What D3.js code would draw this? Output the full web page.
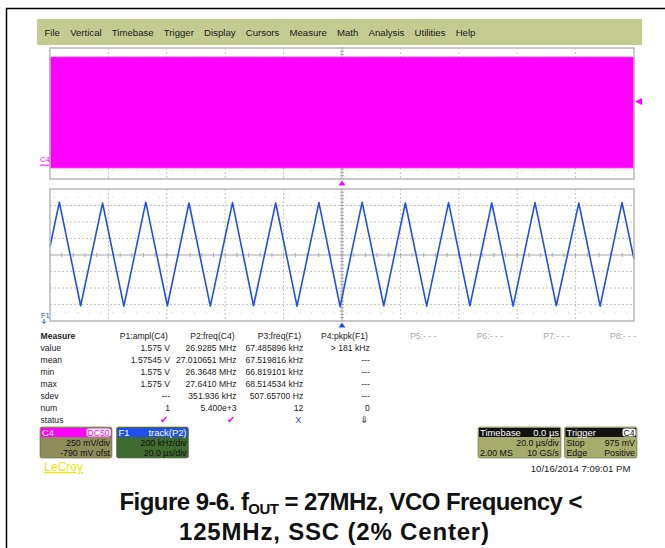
<!DOCTYPE html>
<html>
<head>
<meta charset="utf-8">
<script src="https://cdn.jsdelivr.net/npm/d3@7"></script>
<style>
  body { margin: 0; background: #fff; }
  svg { display: block; font-family: "Liberation Sans", Arial, sans-serif; }
</style>
</head>
<body>
<div id="chart"></div>
<script>
// ---- data ----
const menuItems = ['File', 'Vertical', 'Timebase', 'Trigger', 'Display', 'Cursors', 'Measure', 'Math', 'Analysis', 'Utilities', 'Help'];

// C4: 27 MHz clock, drawn as its envelope over the 200 us record (volts)
const c4Time = [-100, 100];
const c4High = [1.65, 1.65];
const c4Low = [-0.04, -0.04];
const c4TriggerLevel = 0.975;

// F1: track(P2), frequency vs time, triangle vertices (us, MHz)
const trackTime = [-100, -96.8, -89.5, -82.0, -74.7, -67.2, -59.8, -52.4, -45.1, -37.5, -30.3, -22.7, -15.4, -7.9,
  -0.65, 6.9, 14.3, 21.7, 29.0, 36.5, 43.8, 51.3, 58.6, 66.1, 73.4, 81.1, 88.4, 95.9, 100];
const trackFreq = [27.10, 27.64, 26.385, 27.63, 26.38, 27.64, 26.385, 27.63, 26.38, 27.635, 26.385, 27.63, 26.38, 27.635,
  26.375, 27.64, 26.385, 27.63, 26.38, 27.635, 26.385, 27.63, 26.38, 27.635, 26.385, 27.63, 26.38, 27.635, 26.95];

// measure table
const rowLabels = ['value', 'mean', 'min', 'max', 'sdev', 'num', 'status'];
const measHeaders = ['P1:ampl(C4)', 'P2:freq(C4)', 'P3:freq(F1)', 'P4:pkpk(F1)', 'P5:- - -', 'P6:- - -', 'P7:- - -', 'P8:- - -'];
const p1Values = ['1.575 V', '1.57545 V', '1.575 V', '1.575 V', '---', '1'];
const p2Values = ['26.9285 MHz', '27.010651 MHz', '26.3648 MHz', '27.6410 MHz', '351.936 kHz', '5.400e+3'];
const p3Values = ['67.485896 kHz', '67.519816 kHz', '66.819101 kHz', '68.514534 kHz', '507.65700 Hz', '12'];
const p4Values = ['> 181 kHz', '---', '---', '---', '---', '0'];
const statusIcons = ['\u2714', '\u2714', 'X', '\u21D3'];

// channel / timebase / trigger boxes
const c4Box = { title: 'C4', tag: 'DC50', lines: [['', '250 mV/div'], ['', '-790 mV ofst']] };
const f1Box = { title: 'F1', tag: 'track(P2)', lines: [['', '200 kHz/div'], ['', '20.0 \u00B5s/div']] };
const tbBox = { title: 'Timebase', tag: '0.0 \u00B5s', lines: [['', '20.0 \u00B5s/div'], ['2.00 MS', '10 GS/s']] };
const trigBox = { title: 'Trigger', tag: 'C4', lines: [['Stop', '975 mV'], ['Edge', 'Positive']] };
const dateText = '10/16/2014 7:09:01 PM';

// ---- drawing ----
const W = 665, H = 548;
const svg = d3.select('#chart').append('svg').attr('width', W).attr('height', H);

// page frame
svg.append('path').attr('d', 'M6.5,548V8.5H665').attr('fill', 'none').attr('stroke', '#000').attr('stroke-width', 1.5);

// menu bar
svg.append('rect').attr('x', 37).attr('y', 19).attr('width', 605).attr('height', 26).attr('fill', '#c3cb91');
let mx = 44.5;
menuItems.forEach((m) => {
  const t = svg.append('text').attr('x', mx).attr('y', 35.5).attr('font-size', 9.6).attr('fill', '#1a1a1a').text(m);
  mx += t.node().getComputedTextLength() + 10.2;
});

const plotL = 50, plotR = 634;
const x = d3.scaleLinear().domain([-100, 100]).range([plotL, plotR]);
const xDiv = d3.scaleLinear().domain([0, 10]).range([plotL, plotR]);

function drawGrid(g, top, bottom) {
  const yDiv = d3.scaleLinear().domain([0, 8]).range([top, bottom]);
  d3.range(1, 10).filter((i) => i !== 5).forEach((i) => {
    g.append('line').attr('x1', xDiv(i)).attr('x2', xDiv(i)).attr('y1', top).attr('y2', bottom)
      .attr('stroke', '#c4c4c4').attr('stroke-dasharray', '2,2');
  });
  d3.range(1, 8).filter((i) => i !== 4).forEach((i) => {
    g.append('line').attr('x1', plotL).attr('x2', plotR).attr('y1', yDiv(i)).attr('y2', yDiv(i))
      .attr('stroke', '#c4c4c4').attr('stroke-dasharray', '2,2');
  });
  [0.5, 7.5].forEach((i) => {
    g.append('line').attr('x1', plotL + 4).attr('x2', plotR).attr('y1', yDiv(i)).attr('y2', yDiv(i))
      .attr('stroke', '#cfcfcf').attr('stroke-dasharray', '1,10.68');
  });
  g.append('line').attr('x1', xDiv(5)).attr('x2', xDiv(5)).attr('y1', top).attr('y2', bottom).attr('stroke', '#a8a8a8');
  g.append('line').attr('x1', plotL).attr('x2', plotR).attr('y1', yDiv(4)).attr('y2', yDiv(4)).attr('stroke', '#a8a8a8');
  d3.range(0, 10.01, 0.2).forEach((i) => {
    g.append('line').attr('x1', xDiv(i)).attr('x2', xDiv(i)).attr('y1', yDiv(4) - 2).attr('y2', yDiv(4) + 2).attr('stroke', '#a8a8a8');
  });
  d3.range(0, 8.01, 0.2).forEach((i) => {
    g.append('line').attr('x1', xDiv(5) - 2).attr('x2', xDiv(5) + 2).attr('y1', yDiv(i)).attr('y2', yDiv(i)).attr('stroke', '#a8a8a8');
  });
}

// top panel: C4
const topT = 48, topB = 179;
const yV = d3.scaleLinear().domain([0.79 - 1.0, 0.79 + 1.0]).range([topB, topT]);
const gTop = svg.append('g');
drawGrid(gTop, topT, topB);
const c4Data = c4Time.map((t, i) => ({ t, hi: c4High[i], lo: c4Low[i] }));
gTop.append('path').datum(c4Data)
  .attr('d', d3.area().x((d) => x(d.t)).y0((d) => yV(d.lo)).y1((d) => yV(d.hi)))
  .attr('fill', '#ff00ff').attr('stroke', '#ff00ff').attr('stroke-width', 0.8);
gTop.append('rect').attr('x', plotL).attr('y', topT).attr('width', plotR - plotL).attr('height', topB - topT)
  .attr('fill', 'none').attr('stroke', '#b8b8b8').attr('stroke-width', 1.5);
// ground marker and trigger level
svg.append('text').attr('x', 40).attr('y', 162).attr('font-size', 7.5).attr('fill', '#ff00ff').text('C4');
svg.append('line').attr('x1', 40).attr('x2', 49).attr('y1', yV(0)).attr('y2', yV(0)).attr('stroke', '#ff00ff');
const yTrig = yV(c4TriggerLevel);
svg.append('path').attr('d', `M635,${yTrig}L642,${yTrig - 3.5}V${yTrig + 3.5}Z`).attr('fill', '#ff00ff');
svg.append('path').attr('d', `M${x(0)},180.5l-3.5,5h7Z`).attr('fill', '#ff00ff');

// bottom panel: F1
const botT = 189, botB = 321;
const yF = d3.scaleLinear().domain([27.0 - 0.8, 27.0 + 0.8]).range([botB, botT]);
const gBot = svg.append('g');
drawGrid(gBot, botT, botB);
const trackData = trackTime.map((t, i) => ({ t, f: trackFreq[i] }));
gBot.append('path').datum(trackData)
  .attr('d', d3.line().x((d) => x(d.t)).y((d) => yF(d.f)))
  .attr('fill', 'none').attr('stroke', '#1f50ee').attr('stroke-width', 1.6).attr('stroke-linejoin', 'round');
gBot.append('rect').attr('x', plotL).attr('y', botT).attr('width', plotR - plotL).attr('height', botB - botT)
  .attr('fill', 'none').attr('stroke', '#b8b8b8').attr('stroke-width', 1.5);
svg.append('text').attr('x', 41).attr('y', 318).attr('font-size', 7.5).attr('fill', '#1f50ee').text('F1');
svg.append('path').attr('d', 'M44,319v4M42,321.5l2,2l2,-2').attr('stroke', '#1f50ee').attr('fill', 'none');
svg.append('path').attr('d', `M${x(0)},322.5l-3.5,5h7Z`).attr('fill', '#1f50ee');

// measure table
const colRight = d3.scaleLinear().domain([0, 7]).range([170, 636.2]);
const rowY = d3.scaleLinear().domain([0, 7]).range([338.5, 423.3]);
const table = svg.append('g').attr('font-size', 8.6).attr('fill', '#222');
table.append('text').attr('x', 40.5).attr('y', rowY(0)).attr('font-weight', 'bold').text('Measure');
rowLabels.forEach((r, i) => table.append('text').attr('x', 40.5).attr('y', rowY(i + 1)).text(r));
measHeaders.forEach((h, i) => {
  table.append('text').attr('x', colRight(i) - (i < 4 ? 2 : 0)).attr('y', rowY(0)).attr('text-anchor', 'end')
    .attr('fill', i < 4 ? '#222' : '#a8a8a8').text(h);
});
[p1Values, p2Values, p3Values, p4Values].forEach((col, c) => {
  col.forEach((v, r) => {
    table.append('text').attr('x', colRight(c)).attr('y', rowY(r + 1)).attr('text-anchor', 'end').text(v);
  });
});
const iconColors = ['#ff00ff', '#ff00ff', '#2a40e0', '#333'];
statusIcons.forEach((s, c) => {
  table.append('text').attr('x', colRight(c) - 2).attr('y', rowY(7)).attr('text-anchor', 'end')
    .attr('font-size', s === 'X' ? 9 : 9.5).attr('fill', iconColors[c]).text(s);
});

// info boxes
function infoBox(b, x0, x1, head, body, headText, bodyText, tagStyle) {
  const g = svg.append('g').attr('font-size', 9.4)
    .style('font-family', '"Liberation Sans Narrow", "Liberation Sans", Arial, sans-serif');
  g.append('rect').attr('x', x0).attr('y', 427).attr('width', x1 - x0).attr('height', 31).attr('rx', 2)
    .attr('fill', body).attr('stroke', '#6a6a4a').attr('stroke-width', 0.6);
  g.append('rect').attr('x', x0 + 1).attr('y', 428).attr('width', x1 - x0 - 2).attr('height', 9).attr('fill', head);
  g.append('text').attr('x', x0 + 2).attr('y', 435.5).attr('fill', headText).text(b.title);
  if (tagStyle) {
    const t = g.append('text').attr('x', x1 - 2.5).attr('y', 435.5).attr('text-anchor', 'end').attr('font-size', 8.6)
      .attr('fill', tagStyle).text(b.tag);
    const bb = t.node().getBBox();
    g.insert('rect', () => t.node()).attr('x', bb.x - 1).attr('y', 428.5).attr('width', bb.width + 2).attr('height', 8)
      .attr('rx', 2).attr('fill', '#fff');
  } else {
    g.append('text').attr('x', x1 - 2).attr('y', 435.5).attr('text-anchor', 'end').attr('fill', headText).text(b.tag);
  }
  b.lines.forEach((l, i) => {
    const y = 446 + i * 9.6;
    g.append('text').attr('x', x0 + 2).attr('y', y).attr('font-size', 8.8).attr('fill', bodyText).text(l[0]);
    g.append('text').attr('x', x1 - 2).attr('y', y).attr('font-size', 8.8).attr('text-anchor', 'end').attr('fill', bodyText).text(l[1]);
  });
}
infoBox(c4Box, 40, 112, '#ff00ff', '#8f8e5b', '#fff', '#111', '#ff00ff');
infoBox(f1Box, 116.5, 188.5, '#1f50ee', '#3f6a30', '#fff', '#111', null);
infoBox(tbBox, 478, 561, '#111', '#a6ac6c', '#fff', '#111', null);
infoBox(trigBox, 564.5, 637, '#111', '#a6ac6c', '#fff', '#111', '#111');

svg.append('text').attr('x', 44.3).attr('y', 471).attr('font-size', 12).attr('fill', '#eaea00')
  .attr('text-decoration', 'underline').text('LeCroy');
svg.append('text').attr('x', 630.5).attr('y', 472).attr('font-size', 9.6).attr('text-anchor', 'end').attr('fill', '#222').text(dateText);

// caption
const cap = svg.append('g').attr('font-size', 24).attr('font-weight', 'bold').attr('fill', '#111').attr('text-anchor', 'middle');
const l1 = cap.append('text').attr('x', 351).attr('y', 510).attr('textLength', 463).attr('lengthAdjust', 'spacing');
l1.append('tspan').text('Figure 9-6. f');
l1.append('tspan').attr('font-size', 15).attr('dy', 4).text('OUT');
l1.append('tspan').attr('dy', -4).text(' = 27MHz, VCO Frequency <');
cap.append('text').attr('x', 334).attr('y', 539.5).attr('textLength', 310).attr('lengthAdjust', 'spacing')
  .text('125MHz, SSC (2% Center)');
</script>
</body>
</html>
